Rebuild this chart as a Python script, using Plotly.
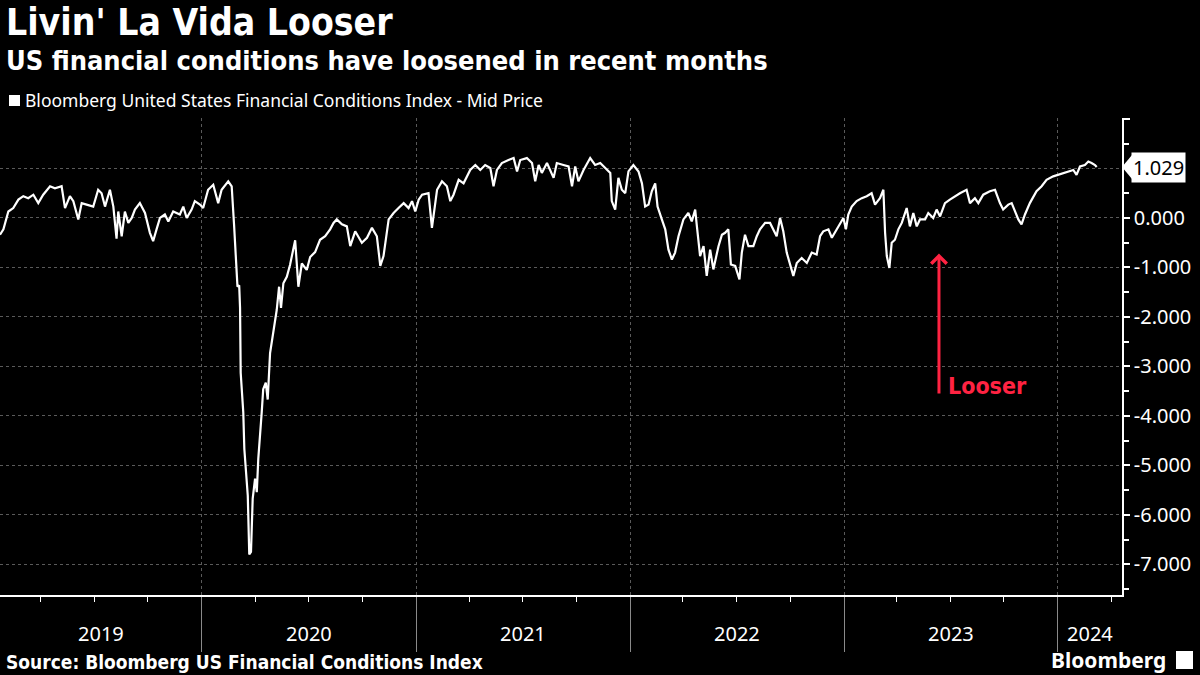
import plotly.graph_objects as go
import pandas as pd

# ---------------- data ----------------
title = "Livin' La Vida Looser"
subtitle = "US financial conditions have loosened in recent months"
series_name = "Bloomberg United States Financial Conditions Index - Mid Price"
source_text = "Source: Bloomberg US Financial Conditions Index"
brand = "Bloomberg"
arrow_label = "Looser"
last_label = "1.029"

# decimal years (x) and index values (y)
dec_years = [
    2019.056, 2019.072, 2019.095, 2019.118, 2019.142, 2019.165, 2019.188, 2019.212, 2019.235, 2019.258,
    2019.290, 2019.313, 2019.344, 2019.360, 2019.383, 2019.399, 2019.422, 2019.438, 2019.461, 2019.492,
    2019.515, 2019.531, 2019.547, 2019.570, 2019.586, 2019.601, 2019.609, 2019.625, 2019.640, 2019.656,
    2019.672, 2019.687, 2019.710, 2019.734, 2019.757, 2019.772, 2019.788, 2019.804, 2019.827, 2019.843,
    2019.866, 2019.897, 2019.913, 2019.929, 2019.952, 2019.967, 2019.991, 2020.006, 2020.029, 2020.053,
    2020.076, 2020.092, 2020.123, 2020.139, 2020.150, 2020.159, 2020.166, 2020.174, 2020.178, 2020.181,
    2020.193, 2020.198, 2020.209, 2020.214, 2020.221, 2020.229, 2020.237, 2020.248, 2020.256, 2020.263,
    2020.279, 2020.286, 2020.298, 2020.307, 2020.318, 2020.333, 2020.349, 2020.360, 2020.369, 2020.380,
    2020.396, 2020.411, 2020.435, 2020.450, 2020.466, 2020.489, 2020.505, 2020.528, 2020.551, 2020.575,
    2020.598, 2020.614, 2020.629, 2020.653, 2020.676, 2020.692, 2020.715, 2020.746, 2020.770, 2020.793,
    2020.816, 2020.832, 2020.847, 2020.871, 2020.894, 2020.917, 2020.941, 2020.964, 2020.980, 2020.995,
    2021.011, 2021.027, 2021.057, 2021.073, 2021.097, 2021.120, 2021.143, 2021.159, 2021.174, 2021.198,
    2021.221, 2021.252, 2021.276, 2021.299, 2021.322, 2021.346, 2021.361, 2021.377, 2021.400, 2021.431,
    2021.455, 2021.471, 2021.486, 2021.517, 2021.541, 2021.556, 2021.572, 2021.587, 2021.611, 2021.642,
    2021.657, 2021.688, 2021.712, 2021.728, 2021.743, 2021.758, 2021.782, 2021.813, 2021.836, 2021.860,
    2021.883, 2021.907, 2021.914, 2021.930, 2021.945, 2021.961, 2021.977, 2021.992, 2022.015, 2022.039,
    2022.055, 2022.070, 2022.086, 2022.101, 2022.117, 2022.128, 2022.148, 2022.164, 2022.179, 2022.195,
    2022.210, 2022.226, 2022.249, 2022.272, 2022.288, 2022.304, 2022.312, 2022.327, 2022.343, 2022.358,
    2022.374, 2022.389, 2022.413, 2022.429, 2022.444, 2022.459, 2022.471, 2022.491, 2022.511, 2022.522,
    2022.537, 2022.553, 2022.576, 2022.592, 2022.607, 2022.631, 2022.654, 2022.670, 2022.685, 2022.701,
    2022.716, 2022.732, 2022.748, 2022.763, 2022.779, 2022.802, 2022.826, 2022.849, 2022.872, 2022.888,
    2022.903, 2022.927, 2022.943, 2022.966, 2022.981, 2022.997, 2023.009, 2023.020, 2023.036, 2023.059,
    2023.083, 2023.106, 2023.129, 2023.145, 2023.168, 2023.184, 2023.192, 2023.200, 2023.212, 2023.223,
    2023.238, 2023.254, 2023.270, 2023.293, 2023.308, 2023.324, 2023.340, 2023.355, 2023.379, 2023.394,
    2023.417, 2023.433, 2023.449, 2023.472, 2023.495, 2023.519, 2023.542, 2023.573, 2023.589, 2023.612,
    2023.628, 2023.651, 2023.682, 2023.706, 2023.729, 2023.744, 2023.768, 2023.784, 2023.799, 2023.815,
    2023.830, 2023.846, 2023.869, 2023.900, 2023.924, 2023.947, 2023.978, 2024.001, 2024.025, 2024.048,
    2024.072, 2024.087, 2024.103, 2024.126, 2024.142, 2024.157, 2024.173, 2024.181,
]
values = [
    -0.34, -0.23, 0.13, 0.20, 0.37, 0.44, 0.40, 0.47, 0.30, 0.47,
    0.64, 0.60, 0.64, 0.20, 0.44, 0.34, -0.03, 0.30, 0.27, 0.23,
    0.57, 0.50, 0.23, 0.57, 0.23, -0.42, 0.13, -0.37, 0.13, -0.10,
    0.00, 0.17, 0.30, 0.10, -0.30, -0.47, -0.23, 0.00, 0.07, -0.07,
    0.13, 0.07, 0.23, 0.00, 0.17, 0.34, 0.27, 0.20, 0.57, 0.67,
    0.30, 0.57, 0.74, 0.64, -0.13, -0.97, -1.39, -1.36, -1.82, -3.13,
    -3.93, -4.67, -5.27, -5.61, -6.80, -6.75, -5.67, -5.27, -5.54, -4.87,
    -3.93, -3.46, -3.33, -3.67, -2.73, -2.26, -1.86, -1.39, -1.82, -1.32,
    -1.19, -0.95, -0.45, -1.39, -0.92, -1.05, -0.79, -0.69, -0.44, -0.37,
    -0.23, -0.10, -0.03, -0.13, -0.17, -0.57, -0.27, -0.50, -0.40, -0.20,
    -0.37, -0.97, -0.77, -0.03, 0.10, 0.20, 0.30, 0.20, 0.34, 0.13,
    0.37, 0.47, 0.50, -0.20, 0.57, 0.74, 0.64, 0.34, 0.47, 0.77,
    0.70, 0.97, 1.07, 0.97, 1.07, 1.01, 0.64, 0.97, 1.11, 1.17,
    1.21, 0.94, 1.17, 1.21, 1.11, 0.74, 1.07, 0.91, 1.11, 0.81,
    1.11, 1.07, 1.04, 0.64, 1.04, 0.74, 0.97, 1.21, 1.07, 1.11,
    1.01, 0.91, 0.34, 0.17, 0.81, 0.57, 0.50, 0.94, 1.07, 0.94,
    0.70, 0.23, 0.27, 0.54, 0.70, 0.23, -0.03, -0.23, -0.64, -0.84,
    -0.70, -0.37, -0.03, 0.10, -0.07, 0.17, -0.17, -0.77, -0.57, -1.17,
    -0.64, -1.04, -0.57, -0.34, -0.30, -0.23, -0.94, -0.97, -1.24, -0.70,
    -0.34, -0.57, -0.57, -0.37, -0.23, -0.10, -0.10, -0.23, -0.37, 0.00,
    -0.27, -0.70, -0.97, -1.17, -0.91, -0.81, -0.91, -0.70, -0.74, -0.37,
    -0.27, -0.23, -0.40, -0.23, -0.13, 0.00, -0.23, 0.07, 0.23, 0.34,
    0.40, 0.44, 0.50, 0.27, 0.40, 0.57, -0.30, -0.77, -1.01, -0.50,
    -0.44, -0.23, -0.10, 0.20, -0.17, 0.10, -0.17, -0.03, -0.03, 0.10,
    0.00, 0.17, 0.03, 0.30, 0.37, 0.44, 0.50, 0.57, 0.30, 0.40,
    0.30, 0.47, 0.54, 0.57, 0.30, 0.17, 0.27, 0.30, 0.13, -0.03,
    -0.13, 0.07, 0.30, 0.54, 0.64, 0.77, 0.84, 0.87, 0.91, 0.94,
    0.97, 0.87, 1.04, 1.07, 1.14, 1.11, 1.07, 1.029,
]

y_tick_vals = [2, 1, 0, -1, -2, -3, -4, -5, -6, -7]
y_tick_text = ["", "1.000", "0.000", "-1.000", "-2.000", "-3.000", "-4.000", "-5.000", "-6.000", "-7.000"]
year_labels = ["2019", "2020", "2021", "2022", "2023", "2024"]

x_range_dec = [2019.056, 2024.299]
y_range = [-7.62, 2.02]
arrow_from_dec, arrow_from_val = 2023.444, -3.58
arrow_to_val = -0.72
label_val = -3.40

# ---------------- helpers ----------------
def dec_to_date(d):
    y = int(d)
    start = pd.Timestamp(year=y, month=1, day=1)
    end = pd.Timestamp(year=y + 1, month=1, day=1)
    return start + (end - start) * (d - y)

dates = [dec_to_date(d) for d in dec_years]
x0, x1 = dec_to_date(x_range_dec[0]), dec_to_date(x_range_dec[1])
year_starts = [pd.Timestamp(year=int(y), month=1, day=1) for y in year_labels]

# plot geometry (pixels)
W, H = 1200, 675
ML, MR, MT, MB = 0, 78, 118, 80
ph = H - MT - MB
pw = W - ML - MR

def py(ypx):
    """paper y from pixel y (top origin)"""
    return (H - MB - ypx) / ph

def px(xpx):
    return (xpx - ML) / pw

WHITE = "#ffffff"
RED = "#ff2342"
GRID = "#5a5a5a"
FONT = "Noto Sans"
BOLD = "DejaVu Sans Condensed"

fig = go.Figure()
fig.add_trace(go.Scatter(
    x=dates, y=values, mode="lines", name=series_name,
    line=dict(color=WHITE, width=2.2), showlegend=False, hoverinfo="skip",
))

annotations = []
# titles
annotations.append(dict(text="<b>" + title + "</b>", x=px(4), y=py(22), xref="paper", yref="paper",
                        xanchor="left", yanchor="middle", showarrow=False,
                        font=dict(family=BOLD, size=37, color=WHITE)))
annotations.append(dict(text="<b>" + subtitle + "</b>", x=px(4), y=py(60), xref="paper", yref="paper",
                        xanchor="left", yanchor="middle", showarrow=False,
                        font=dict(family=BOLD, size=27, color=WHITE)))
annotations.append(dict(text=series_name, x=px(23), y=py(100), xref="paper", yref="paper",
                        xanchor="left", yanchor="middle", showarrow=False,
                        font=dict(family=FONT, size=17.5, color=WHITE)))
annotations.append(dict(text="<b>" + source_text + "</b>", x=px(4), y=py(662), xref="paper", yref="paper",
                        xanchor="left", yanchor="middle", showarrow=False,
                        font=dict(family=BOLD, size=19, color=WHITE)))
annotations.append(dict(text="<b>" + brand + "</b>", x=px(1168), y=py(660), xref="paper", yref="paper",
                        xanchor="right", yanchor="middle", showarrow=False,
                        font=dict(family=FONT, size=21, color=WHITE)))

# year labels centred on the visible part of each year
for i, lab in enumerate(year_labels):
    a = max(year_starts[i], x0)
    b = min(pd.Timestamp(year=int(lab) + 1, month=1, day=1), x1)
    mid = a + (b - a) / 2
    annotations.append(dict(text=lab, x=mid, y=py(633), xref="x", yref="paper",
                            xanchor="center", yanchor="middle", showarrow=False,
                            font=dict(family=FONT, size=20, color=WHITE)))

# last value label
annotations.append(dict(text=last_label, x=1.0, y=values[-1], xref="paper", yref="y",
                        xanchor="left", yanchor="middle", xshift=9, showarrow=False,
                        bgcolor=WHITE, borderpad=1,
                        font=dict(family=FONT, size=20, color="#000000")))

# Looser arrow
ax_date = dec_to_date(arrow_from_dec)
annotations.append(dict(text="", x=ax_date, y=arrow_to_val, ax=ax_date, ay=arrow_from_val,
                        xref="x", yref="y", axref="x", ayref="y", showarrow=True,
                        arrowhead=4, arrowsize=1.0, arrowwidth=3, arrowcolor=RED))
annotations.append(dict(text="<b>" + arrow_label + "</b>", x=ax_date, y=label_val, xref="x", yref="y",
                        xanchor="left", yanchor="middle", xshift=7, showarrow=False,
                        font=dict(family=BOLD, size=23, color=RED)))

shapes = []
# legend square
shapes.append(dict(type="rect", xref="paper", yref="paper",
                   x0=px(9), x1=px(20), y0=py(106), y1=py(95),
                   fillcolor=WHITE, line=dict(width=0)))
# pointer of last-value label
shapes.append(dict(type="path", xref="paper", yref="paper",
                   path=f"M {px(1122)},{py(167)} L {px(1132)},{py(155)} L {px(1132)},{py(179)} Z",
                   fillcolor=WHITE, line=dict(width=0)))
# brand icon
shapes.append(dict(type="rect", xref="paper", yref="paper",
                   x0=px(1176), x1=px(1193), y0=py(669), y1=py(651),
                   fillcolor=WHITE, line=dict(width=0)))

fig.update_layout(
    width=W, height=H,
    paper_bgcolor="#000000", plot_bgcolor="#000000",
    margin=dict(l=ML, r=MR, t=MT, b=MB, pad=0),
    annotations=annotations, shapes=shapes,
    showlegend=False,
    xaxis=dict(
        range=[x0, x1], tickmode="array", tickvals=year_starts, showticklabels=False,
        ticks="outside", ticklen=55, tickcolor="#8a8a8a", tickwidth=1,
        showgrid=True, gridcolor=GRID, griddash="dot", gridwidth=1,
        showline=True, linecolor=WHITE, linewidth=1.5, zeroline=False,
        minor=dict(dtick="M3", tick0="2019-01-01", ticks="outside", ticklen=5,
                   tickcolor=WHITE, showgrid=False),
    ),
    yaxis=dict(
        range=y_range, side="right", tickmode="array", tickvals=y_tick_vals, ticktext=y_tick_text,
        ticks="outside", ticklen=6, tickcolor=WHITE, tickwidth=1.5,
        showgrid=True, gridcolor=GRID, griddash="dot", gridwidth=1,
        showline=True, linecolor=WHITE, linewidth=1.5, zeroline=False,
        tickfont=dict(family=FONT, size=20, color=WHITE),
        minor=dict(dtick=0.5, tick0=0, ticks="outside", ticklen=5, tickcolor=WHITE, showgrid=False),
    ),
)

fig.write_html("out.html", config={"displayModeBar": False},
               post_script="document.body.style.margin='0';document.body.style.overflow='hidden';")
